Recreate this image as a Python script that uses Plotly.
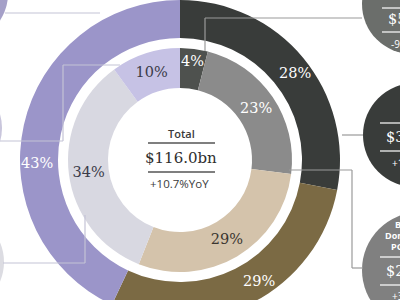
import plotly.graph_objects as go

# ---- data ----
outer_labels = ["Segment A", "Segment B", "Segment C"]
outer_values = [28, 29, 43]
outer_colors = ["#393c3a", "#7b6a44", "#9b95c9"]

inner_labels = ["A1", "A2", "B1", "C1", "C2"]
inner_values = [4, 23, 29, 34, 10]
inner_colors = ["#4e514e", "#8b8b8b", "#d4c3ab", "#d8d8e1", "#c6c2e5"]
inner_text_colors = ["#ffffff", "#ffffff", "#3a3530", "#3a3b48", "#3a3b48"]

total_title = "Total"
total_value = "$116.0bn"
total_growth = "+10.7%YoY"

W, H = 400, 320


def px(x, y):
    return x / W, 1 - y / H


fig = go.Figure()

serif = "DejaVu Serif"
sans = "Open Sans"
PCT = 14.5

fig.add_trace(go.Pie(
    labels=outer_labels, values=outer_values, sort=False, direction="clockwise",
    hole=0.7625, marker=dict(colors=outer_colors, line=dict(width=0)),
    textinfo="none",
    domain=dict(x=[20 / W, 340 / W], y=[0, 1]), showlegend=False, hoverinfo="skip",
))
fig.add_trace(go.Pie(
    labels=inner_labels, values=inner_values, sort=False, direction="clockwise",
    hole=0.643, marker=dict(colors=inner_colors, line=dict(width=0)),
    texttemplate="%{value}%", textposition="inside", insidetextorientation="horizontal",
    textfont=dict(family=serif, size=PCT, color=inner_text_colors),
    insidetextfont=dict(family=serif, size=PCT, color=inner_text_colors),
    domain=dict(x=[68 / W, 292 / W], y=[1 - 272 / H, 1 - 48 / H]), showlegend=False, hoverinfo="skip",
))

shapes = []


def line(x0, y0, x1, y1, color="#c4c3d6", width=1.2):
    a, b = px(x0, y0)
    c, d = px(x1, y1)
    shapes.append(dict(type="line", xref="paper", yref="paper", x0=a, y0=b, x1=c, y1=d,
                       line=dict(color=color, width=width)))


def circle(cx, cy, r, color):
    a, b = px(cx - r, cy - r)
    c, d = px(cx + r, cy + r)
    shapes.append(dict(type="circle", xref="paper", yref="paper", x0=a, y0=d, x1=c, y1=b,
                       fillcolor=color, line=dict(width=0), layer="above"))


# callout circles
circle(-40, -6, 48, "#a5a0c8")
circle(-48, 128, 50, "#c9c6dc")
circle(-46, 262, 50, "#dcdce2")
circle(412, 4, 50, "#6b6e6b")
circle(415, 135, 52, "#393c3a")
circle(420, 270, 58, "#808080")

# leader lines
line(5, 13, 100, 13)
line(120, 65, 63, 65)
line(63, 65, 63, 141)
line(63, 141, 0, 141)
line(85, 215, 85, 263)
line(85, 263, 3, 263)
line(205, 51, 205, 18, color="#9a9a9a")
line(205, 18, 362, 18, color="#9a9a9a")
line(342, 135, 363, 135, color="#9a9a9a")
line(289, 170, 352, 170, color="#9a9a9a")
line(352, 170, 352, 268, color="#9a9a9a")
line(352, 268, 363, 268, color="#9a9a9a")

# center lines
line(148, 143, 215, 143, color="#555555", width=1.5)
line(148, 172, 215, 172, color="#555555", width=1.5)

# lines in circles
line(382, 8, 400, 8, color="#ffffff", width=1.2)
line(382, 32, 400, 32, color="#ffffff", width=1.2)
line(380, 123, 400, 123, color="#ffffff", width=1.2)
line(380, 151, 400, 151, color="#ffffff", width=1.2)
line(380, 257, 400, 257, color="#ffffff", width=1.2)
line(380, 285, 400, 285, color="#ffffff", width=1.2)

annotations = []


def text(x, y, s, size, family, color, xanchor="center", weight="normal"):
    a, b = px(x, y)
    annotations.append(dict(x=a, y=b, xref="paper", yref="paper", text=s,
                            showarrow=False, xanchor=xanchor, yanchor="middle",
                            font=dict(family=family, size=size, color=color, weight=weight)))


# outer ring percentage labels
outer_label_pos = [(295, 73), (259, 281), (37, 163)]
for v, (lx, ly) in zip(outer_values, outer_label_pos):
    text(lx, ly, "%d%%" % v, PCT, serif, "#ffffff")

text(181, 133, total_title, 11, sans, "#3a3a3a", weight=600)
text(181, 158, total_value, 15, serif, "#2e2e2e")
text(179, 183, total_growth, 11.5, sans, "#3a3a3a")

text(386, 19, "$5.1bn", PCT, serif, "#ffffff", xanchor="left")
text(389, 44, "-9.0%", 10, sans, "#ffffff", xanchor="left")
text(384, 137, "$3.4bn", PCT, serif, "#ffffff", xanchor="left")
text(390, 163, "+13%", 10, sans, "#ffffff", xanchor="left")
text(393, 224, "Brand", 9, sans, "#ffffff", xanchor="left", weight="bold")
text(383, 235, "Domestic", 9, sans, "#ffffff", xanchor="left", weight="bold")
text(389, 246, "POS", 9, sans, "#ffffff", xanchor="left", weight="bold")
text(384, 271, "$2.9bn", PCT, serif, "#ffffff", xanchor="left")
text(390, 296, "+3%", 10, sans, "#ffffff", xanchor="left")

fig.update_layout(
    width=W, height=H, margin=dict(l=0, r=0, t=0, b=0),
    paper_bgcolor="#ffffff", plot_bgcolor="#ffffff",
    shapes=shapes, annotations=annotations,
    uniformtext=dict(minsize=PCT, mode="show"),
)

fig.write_html("out.html")
